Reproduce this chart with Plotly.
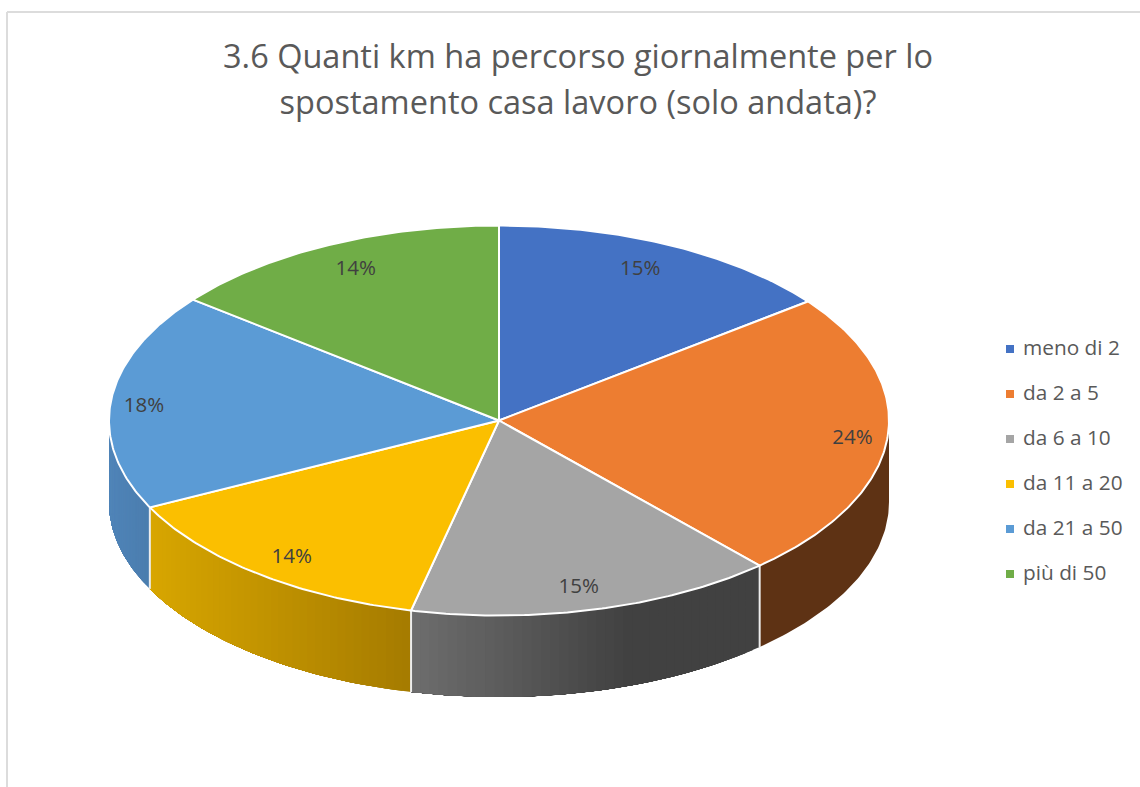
import math
import plotly.graph_objects as go

TITLE_LINES = ["3.6 Quanti km ha percorso giornalmente per lo", "spostamento casa lavoro (solo andata)?"]
categories = ["meno di 2", "da 2 a 5", "da 6 a 10", "da 11 a 20", "da 21 a 50", "più di 50"]
values = [14.55, 23.8, 15.27, 14.03, 17.99, 14.36]
top_colors = ["#4472C4", "#ED7D31", "#A5A5A5", "#FBBF00", "#5B9BD5", "#70AD47"]
wall_light = ["#4472C4", "#5E3214", "#6E6E6E", "#D8A600", "#5084B8", "#70AD47"]
wall_dark = ["#4472C4", "#5E3214", "#414141", "#A57B00", "#4A7DAE", "#70AD47"]

# geometry of the projected pie (pixel-based axes)
CX, CY, RX, RY, DEPTH = 499.0, 420.5, 390.0, 195.0, 81.5
label_fx = [0.82, 0.91, 0.82, 0.858, 0.915, 0.843]
label_fy = [0.858, 1.05, 0.888, 0.896, 0.676, 0.86]
LEG_X, LEG_TEXT_X, LEG_Y0, LEG_DY, LEG_TEXT_DY = 1010, 1023, 349, 45, 1.0


def pt(theta, dy=0.0, fx=1.0, fy=1.0):
    return CX + RX * fx * math.sin(theta), CY - RY * fy * math.cos(theta) + dy


def hexmix(a, b, t):
    ca = [int(a[i:i + 2], 16) for i in (1, 3, 5)]
    cb = [int(b[i:i + 2], 16) for i in (1, 3, 5)]
    return "#" + "".join(f"{round(x + (y - x) * t):02x}" for x, y in zip(ca, cb))


total = sum(values)
edges = [0.0]
for v in values:
    edges.append(edges[-1] + v / total * 2 * math.pi)

fig = go.Figure()


def poly(xs, ys, fill, line_color, width, name=None):
    fig.add_trace(go.Scatter(x=xs, y=ys, mode="lines", fill="toself", fillcolor=fill,
                             line=dict(color=line_color, width=width), hoverinfo="skip",
                             showlegend=False, name=name))


# side walls (only the front half is visible); overlapping bands paint a smooth shade
for i, v in enumerate(values):
    a0, a1 = max(edges[i], math.pi / 2), min(edges[i + 1], 3 * math.pi / 2)
    if a1 <= a0:
        continue
    x_left, x_right = pt(a1)[0], pt(a0)[0]
    bands = 1 if wall_light[i] == wall_dark[i] else 40
    for k in range(bands):
        t0 = a0 + (a1 - a0) * k / bands
        xm = pt(a0 + (a1 - a0) * (k + 0.5) / bands)[0]
        u = (xm - x_left) / (x_right - x_left)
        if i == 2:  # grey flattens out toward the right
            u = min(1.0, u / 0.62)
        col = hexmix(wall_light[i], wall_dark[i], u)
        m = 60
        arc = [t0 + (a1 - t0) * j / m for j in range(m + 1)]
        top = [pt(t) for t in arc]
        bot = [pt(t, DEPTH) for t in reversed(arc)]
        xs = [p[0] for p in top + bot] + [top[0][0]]
        ys = [p[1] for p in top + bot] + [top[0][1]]
        poly(xs, ys, col, "rgba(0,0,0,0)", 0)

# white vertical seams between walls
for e in edges[1:-1]:
    if math.pi / 2 < e < 3 * math.pi / 2:
        p, q = pt(e), pt(e, DEPTH)
        fig.add_trace(go.Scatter(x=[p[0], q[0]], y=[p[1], q[1]], mode="lines",
                                 line=dict(color="#EDEDED", width=2), hoverinfo="skip", showlegend=False))

# top faces
for i, name in enumerate(categories):
    a0, a1 = edges[i], edges[i + 1]
    n = max(8, int((a1 - a0) / 0.01))
    arc = [pt(a0 + (a1 - a0) * k / n) for k in range(n + 1)]
    xs = [CX] + [p[0] for p in arc] + [CX]
    ys = [CY] + [p[1] for p in arc] + [CY]
    poly(xs, ys, top_colors[i], "#FFFFFF", 2, name)

# percentage labels
for i, v in enumerate(values):
    mid = (edges[i] + edges[i + 1]) / 2
    x, y = pt(mid, fx=label_fx[i], fy=label_fy[i])
    fig.add_trace(go.Scatter(x=[x], y=[y], mode="text", text=[f"{v / total * 100:.0f}%"],
                             textposition="middle center",
                             textfont=dict(family="Open Sans", size=20.5, color="#404040"),
                             hoverinfo="skip", showlegend=False))

# legend
for i, name in enumerate(categories):
    y = LEG_Y0 + i * LEG_DY
    fig.add_trace(go.Scatter(x=[LEG_X], y=[y], mode="markers", name=name,
                             marker=dict(symbol="square", size=8, color=top_colors[i]),
                             hoverinfo="skip", showlegend=False))
    fig.add_trace(go.Scatter(x=[LEG_TEXT_X], y=[y + LEG_TEXT_DY], mode="text", text=[name],
                             textposition="middle right",
                             textfont=dict(family="Open Sans", size=20.8, color="#595959"),
                             hoverinfo="skip", showlegend=False))

title_html = "<br>".join(f'<span style="font-size:32.5px">{s}</span>' for s in TITLE_LINES)
fig.update_layout(
    width=1140, height=787, margin=dict(l=0, r=0, t=0, b=0),
    paper_bgcolor="#FFFFFF", plot_bgcolor="#FFFFFF", showlegend=False,
    title=dict(text=title_html, x=578 / 1140, xanchor="center", y=1 - 67.5 / 787, yanchor="middle",
               font=dict(family="Open Sans", size=36, color="#595959")),
    xaxis=dict(range=[0, 1140], visible=False, fixedrange=True),
    yaxis=dict(range=[787, 0], visible=False, fixedrange=True),
    shapes=[
        dict(type="line", x0=7, x1=7, y0=12, y1=787, line=dict(color="#DCDCDC", width=2)),
        dict(type="line", x0=7, x1=1140, y0=12, y1=12, line=dict(color="#DCDCDC", width=2)),
    ],
)
fig.write_html("out.html", config=dict(displayModeBar=False),
               post_script="document.body.style.margin='0';document.body.style.overflow='hidden';")
